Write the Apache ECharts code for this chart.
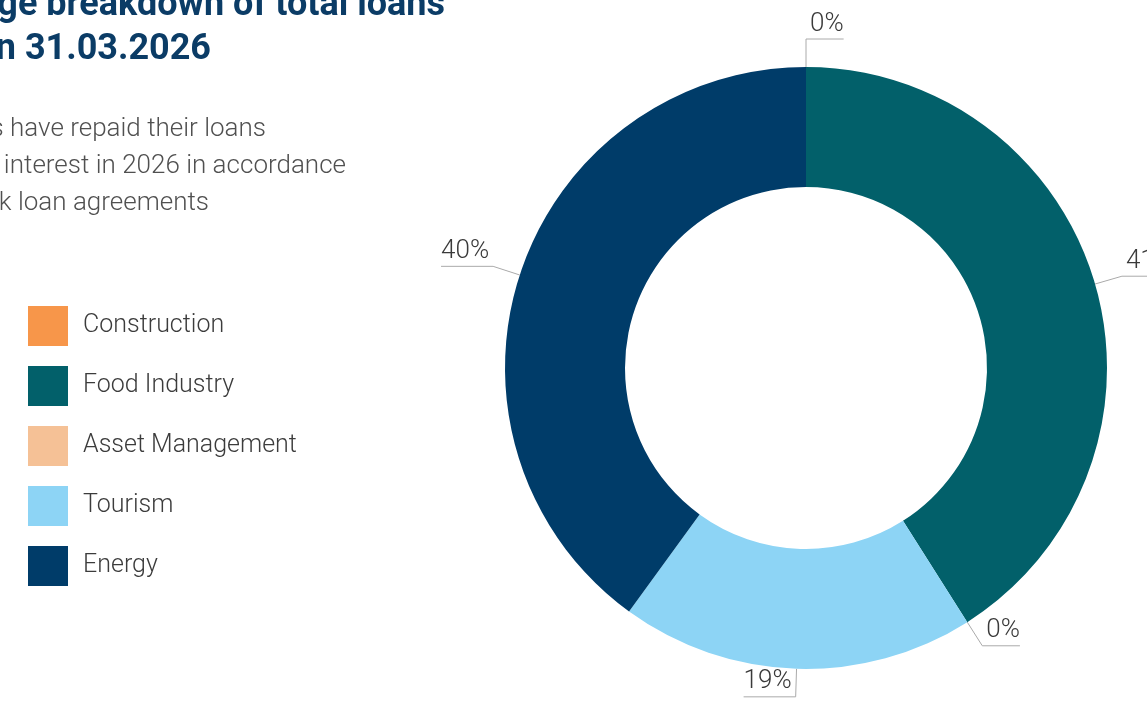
<!DOCTYPE html>
<html>
<head>
<meta charset="utf-8">
<script src="https://cdn.jsdelivr.net/npm/echarts@6/dist/echarts.min.js"></script>
<style>
  html, body { margin: 0; padding: 0; background: #ffffff; }
  #chart { width: 1147px; height: 724px; }
</style>
</head>
<body>
<div id="chart"></div>
<script>
// Sector split of the loan book (percent of total)
const sectors = ['Construction', 'Food Industry', 'Asset Management', 'Tourism', 'Energy'];
const shares = [0, 41, 0, 19, 40];
const sectorColors = ['#F7964A', '#02606A', '#F5C196', '#8DD4F5', '#003C69'];

const titleLines = ['Percentage breakdown of total loans', 'as on 31.03.2026'];
const noteLines = ['Borrowers have repaid their loans', 'and interest in 2026 in accordance', 'with bank loan agreements'];

const FONT = 'Roboto, "Noto Sans", sans-serif';
const chart = echarts.init(document.getElementById('chart'), null, { renderer: 'canvas' });

const graphics = [];
titleLines.forEach((t, i) => {
  graphics.push({
    type: 'text', x: [445, 211][i], y: [24, 68][i],
    style: { text: t, font: 'bold 36px ' + FONT, fill: '#0B3C66', textAlign: 'right', textVerticalAlign: 'bottom' }
  });
});
noteLines.forEach((t, i) => {
  graphics.push({
    type: 'text', x: [266, 346, 209][i], y: 129 + i * 37,
    style: { text: t, font: '300 26px ' + FONT, fill: '#505050', textAlign: 'right', textVerticalAlign: 'middle' }
  });
});

chart.setOption({
  animation: false,
  color: sectorColors,
  graphic: graphics,
  legend: {
    orient: 'vertical',
    left: 28, top: 306, padding: 0,
    itemWidth: 40, itemHeight: 40, itemGap: 20,
    icon: 'rect',
    data: sectors,
    textStyle: { fontFamily: FONT, fontSize: 25, fontWeight: 300, color: '#3c3c3c', padding: [3, 0, 0, 10] }
  },
  series: [{
    type: 'pie',
    center: [806, 368],
    radius: [181, 301],
    startAngle: 90,
    clockwise: true,
    avoidLabelOverlap: false,
    data: sectors.map((name, i) => ({ name, value: shares[i] })),
    label: {
      show: true,
      formatter: (p) => Math.round(p.value) + '%',
      fontFamily: FONT, fontSize: 26, fontWeight: 300, color: '#3a3a3a'
    },
    labelLine: { show: true, length: 28, length2: 30, lineStyle: { color: '#aaaaaa', width: 1 } },
    // Put each value above the horizontal leg of its leader line
    labelLayout: function (params) {
      const pts = params.labelLinePoints;
      if (!pts) return {};
      const p0 = pts[0].slice(), p1 = pts[1].slice();
      const toRight = (p1[0] - p0[0]) > -0.5;
      const w = params.labelRect.width + 4;
      const end = [p1[0] + (toRight ? w : -w), p1[1]];
      return {
        x: end[0],
        y: p1[1] - 2,
        align: toRight ? 'right' : 'left',
        verticalAlign: 'bottom',
        labelLinePoints: [p0, p1, end]
      };
    }
  }]
});
</script>
</body>
</html>
